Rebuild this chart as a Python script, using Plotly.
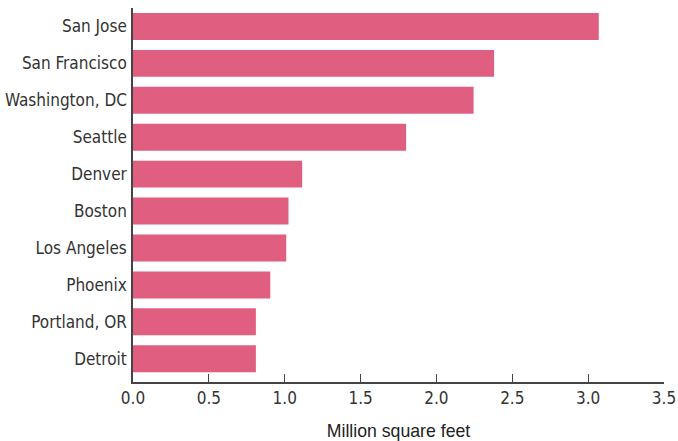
import plotly.graph_objects as go

cities = ["San Jose", "San Francisco", "Washington, DC", "Seattle", "Denver",
          "Boston", "Los Angeles", "Phoenix", "Portland, OR", "Detroit"]
values = [3.07, 2.38, 2.245, 1.80, 1.115, 1.025, 1.01, 0.905, 0.81, 0.81]
x_ticks = [0, 0.5, 1.0, 1.5, 2.0, 2.5, 3.0, 3.5]
x_ticklabels = ["0.0", "0.5", "1.0", "1.5", "2.0", "2.5", "3.0", "3.5"]

COND = "DejaVu Sans Condensed, sans-serif"

fig = go.Figure(go.Bar(
    x=values, y=cities, orientation="h",
    marker=dict(color="#E05F81", line=dict(width=0)),
    hoverinfo="x+y",
))

fig.update_layout(
    width=678, height=441,
    margin=dict(l=133, r=14, t=8, b=59),
    paper_bgcolor="white", plot_bgcolor="white",
    bargap=0.27,
    showlegend=False,
    font=dict(family=COND, size=17, color="#333333"),
)
fig.update_xaxes(
    range=[0, 3.5], tickvals=x_ticks, ticktext=x_ticklabels,
    ticks="inside", ticklen=8, tickcolor="#444444", tickwidth=1,
    showline=True, linecolor="#444444", linewidth=1.5,
    showgrid=False, zeroline=False, automargin=False,
    tickfont=dict(family=COND, size=17, color="#333333"),
    title=dict(text="Million square feet",
               font=dict(family="Liberation Sans, Arial, sans-serif", size=17.7, color="#222222"),
               standoff=18),
)
fig.update_yaxes(
    categoryorder="array", categoryarray=cities,
    range=[9.63, -0.5],
    showline=True, linecolor="#444444", linewidth=1.5,
    ticks="", showgrid=False, zeroline=False, automargin=False,
    ticklabelstandoff=1,
    tickfont=dict(family=COND, size=17, color="#333333"),
)

fig.write_html("out.html", config={"displayModeBar": False},
               post_script="document.body.style.margin='0';")
